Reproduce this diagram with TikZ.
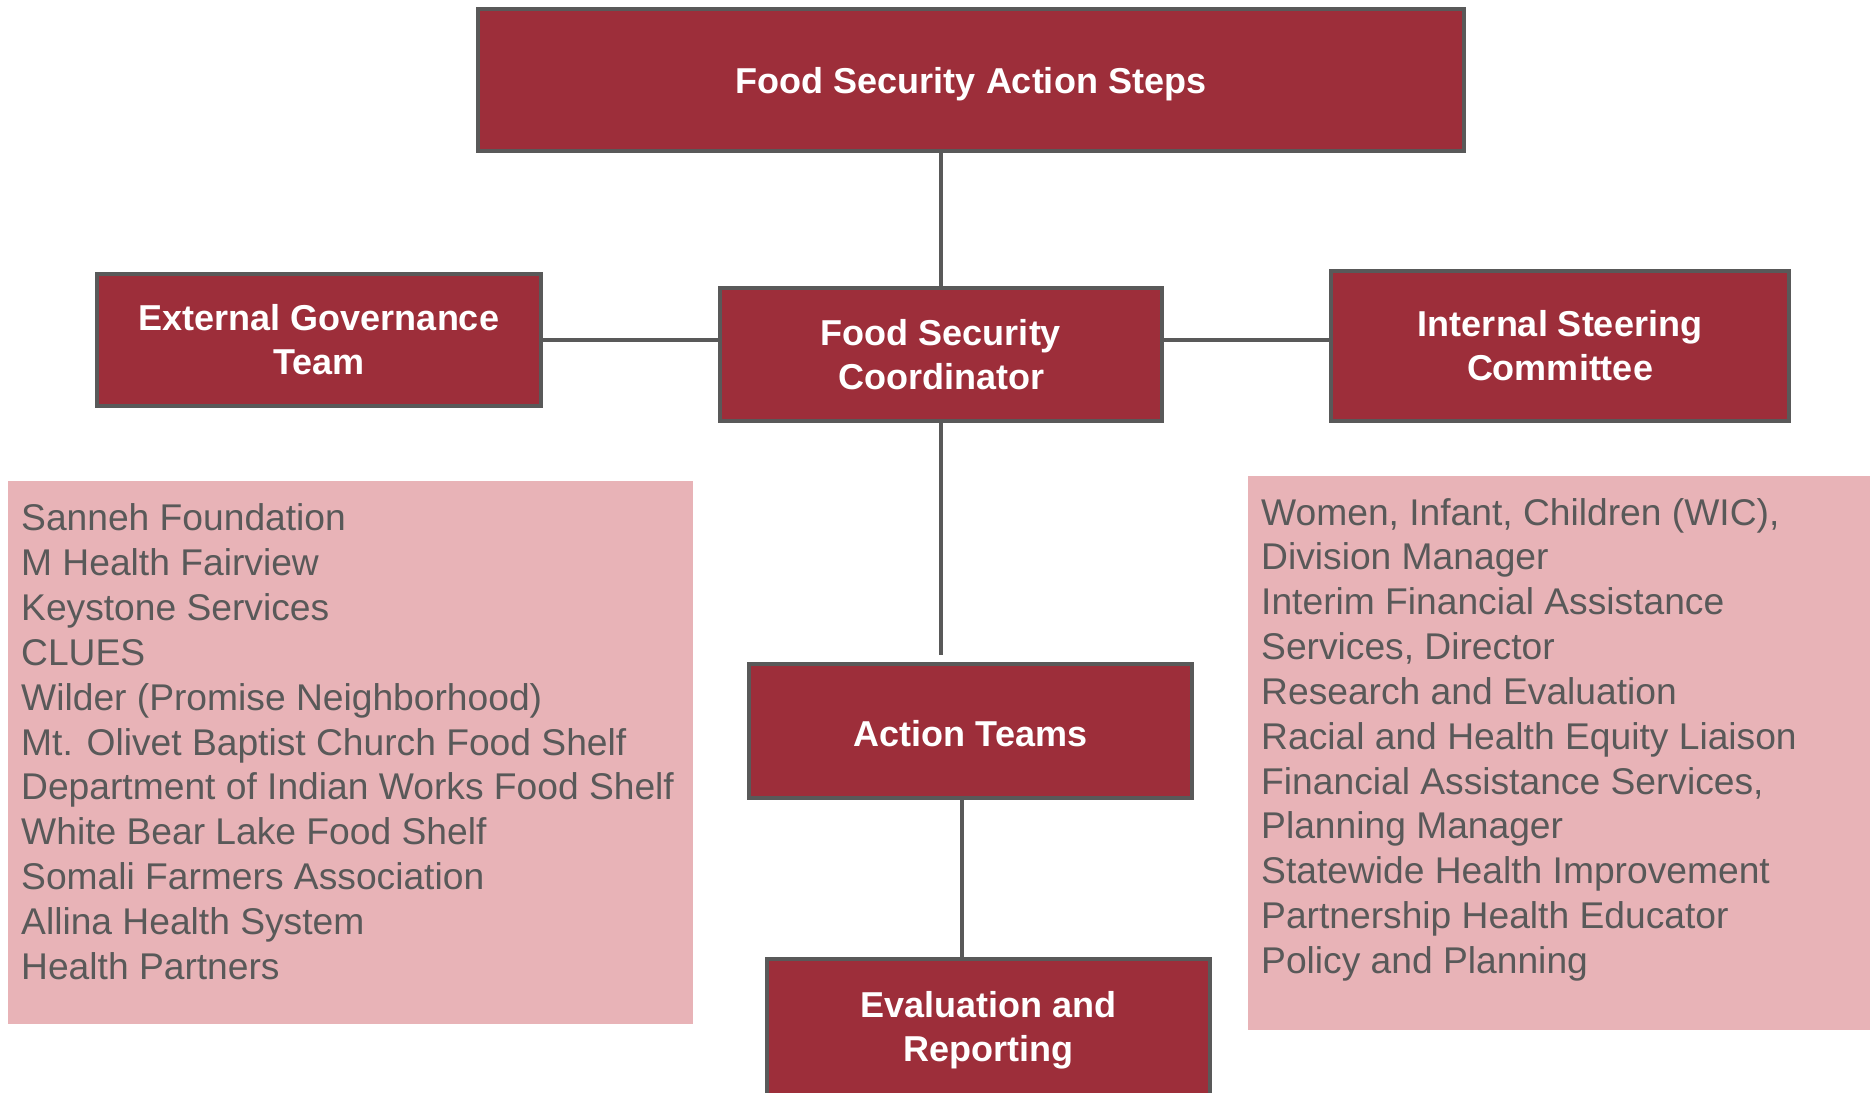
\documentclass[tikz,border=0pt]{standalone}
\usepackage{fontspec}
\setmainfont{Liberation Sans}
\usetikzlibrary{calc}
\definecolor{boxred}{HTML}{9D2E3A}
\definecolor{pinkbg}{HTML}{E8B3B7}
\definecolor{linegray}{HTML}{595959}
\begin{document}
\begin{tikzpicture}[x=1pt,y=-1pt,
  redbox/.style={rectangle, fill=boxred, draw=linegray, line width=4pt, text=white,
    font=\fontsize{36}{44}\selectfont\bfseries, align=center, inner sep=0pt},
  conn/.style={draw=linegray, line width=4pt},
  pinkpanel/.style={rectangle, fill=pinkbg, inner sep=0pt, draw=none},
  item/.style={anchor=base west, inner sep=0pt, text=linegray, font=\fontsize{37.2}{45}\selectfont}]
\useasboundingbox (0,0) rectangle (1870,1092);
\clip (0,0) rectangle (1870,1092);

% pink panels
\node[pinkpanel, minimum width=685pt, minimum height=543pt] (leftpanel) at (350.5,752.5) {};
\node[pinkpanel, minimum width=627pt, minimum height=554pt] (rightpanel) at (1561.5,753) {};

\foreach [count=\i from 0] \t in {Sanneh Foundation, M Health Fairview, Keystone Services, CLUES,
  Wilder (Promise Neighborhood), Mt. Olivet Baptist Church Food Shelf,
  Department of Indian Works Food Shelf, White Bear Lake Food Shelf,
  Somali Farmers Association, Allina Health System, Health Partners}
  \node[item] (left\i) at (21,530.5+44.9*\i) {\t};

\foreach [count=\i from 0] \t in {{Women, Infant, Children (WIC),}, Division Manager,
  Interim Financial Assistance, {Services, Director}, Research and Evaluation,
  Racial and Health Equity Liaison, {Financial Assistance Services,}, Planning Manager,
  Statewide Health Improvement, Partnership Health Educator, Policy and Planning}
  \node[item] (right\i) at (1261,525+44.85*\i) {\t};

% boxes
\node[redbox, minimum width=986pt, minimum height=142pt, text depth=0pt] (top) at (971,80) {Food Security Action Steps};
\node[redbox, minimum width=444pt, minimum height=132pt] (ext) at (319,340) {External Governance\\Team};
\node[redbox, minimum width=442pt, minimum height=133pt] (coord) at (941,354.5) {Food Security\\Coordinator};
\node[redbox, minimum width=458pt, minimum height=150pt] (intl) at (1560,345.5) {Internal Steering\\Committee};
\node[redbox, minimum width=443pt, minimum height=134pt, text depth=0pt] (action) at (970.5,731) {\raisebox{-5pt}{Action Teams}};
\node[redbox, minimum width=443pt, minimum height=142pt] (eval) at (988.5,1030) {Evaluation and\\Reporting};

% connectors
\coordinate (gapend) at (941,655);
\coordinate (ae) at ($(action.south)+(-8.5,0)$);
\draw[conn] (coord.north) -- (coord.north |- top.south);
\draw[conn] (ext.east) -- (ext.east -| coord.west);
\draw[conn] (coord.east |- ext.east) -- (intl.west |- ext.east);
\draw[conn] (coord.south) -- (gapend);
\draw[conn] (ae) -- (ae |- eval.north);
\end{tikzpicture}
\end{document}
